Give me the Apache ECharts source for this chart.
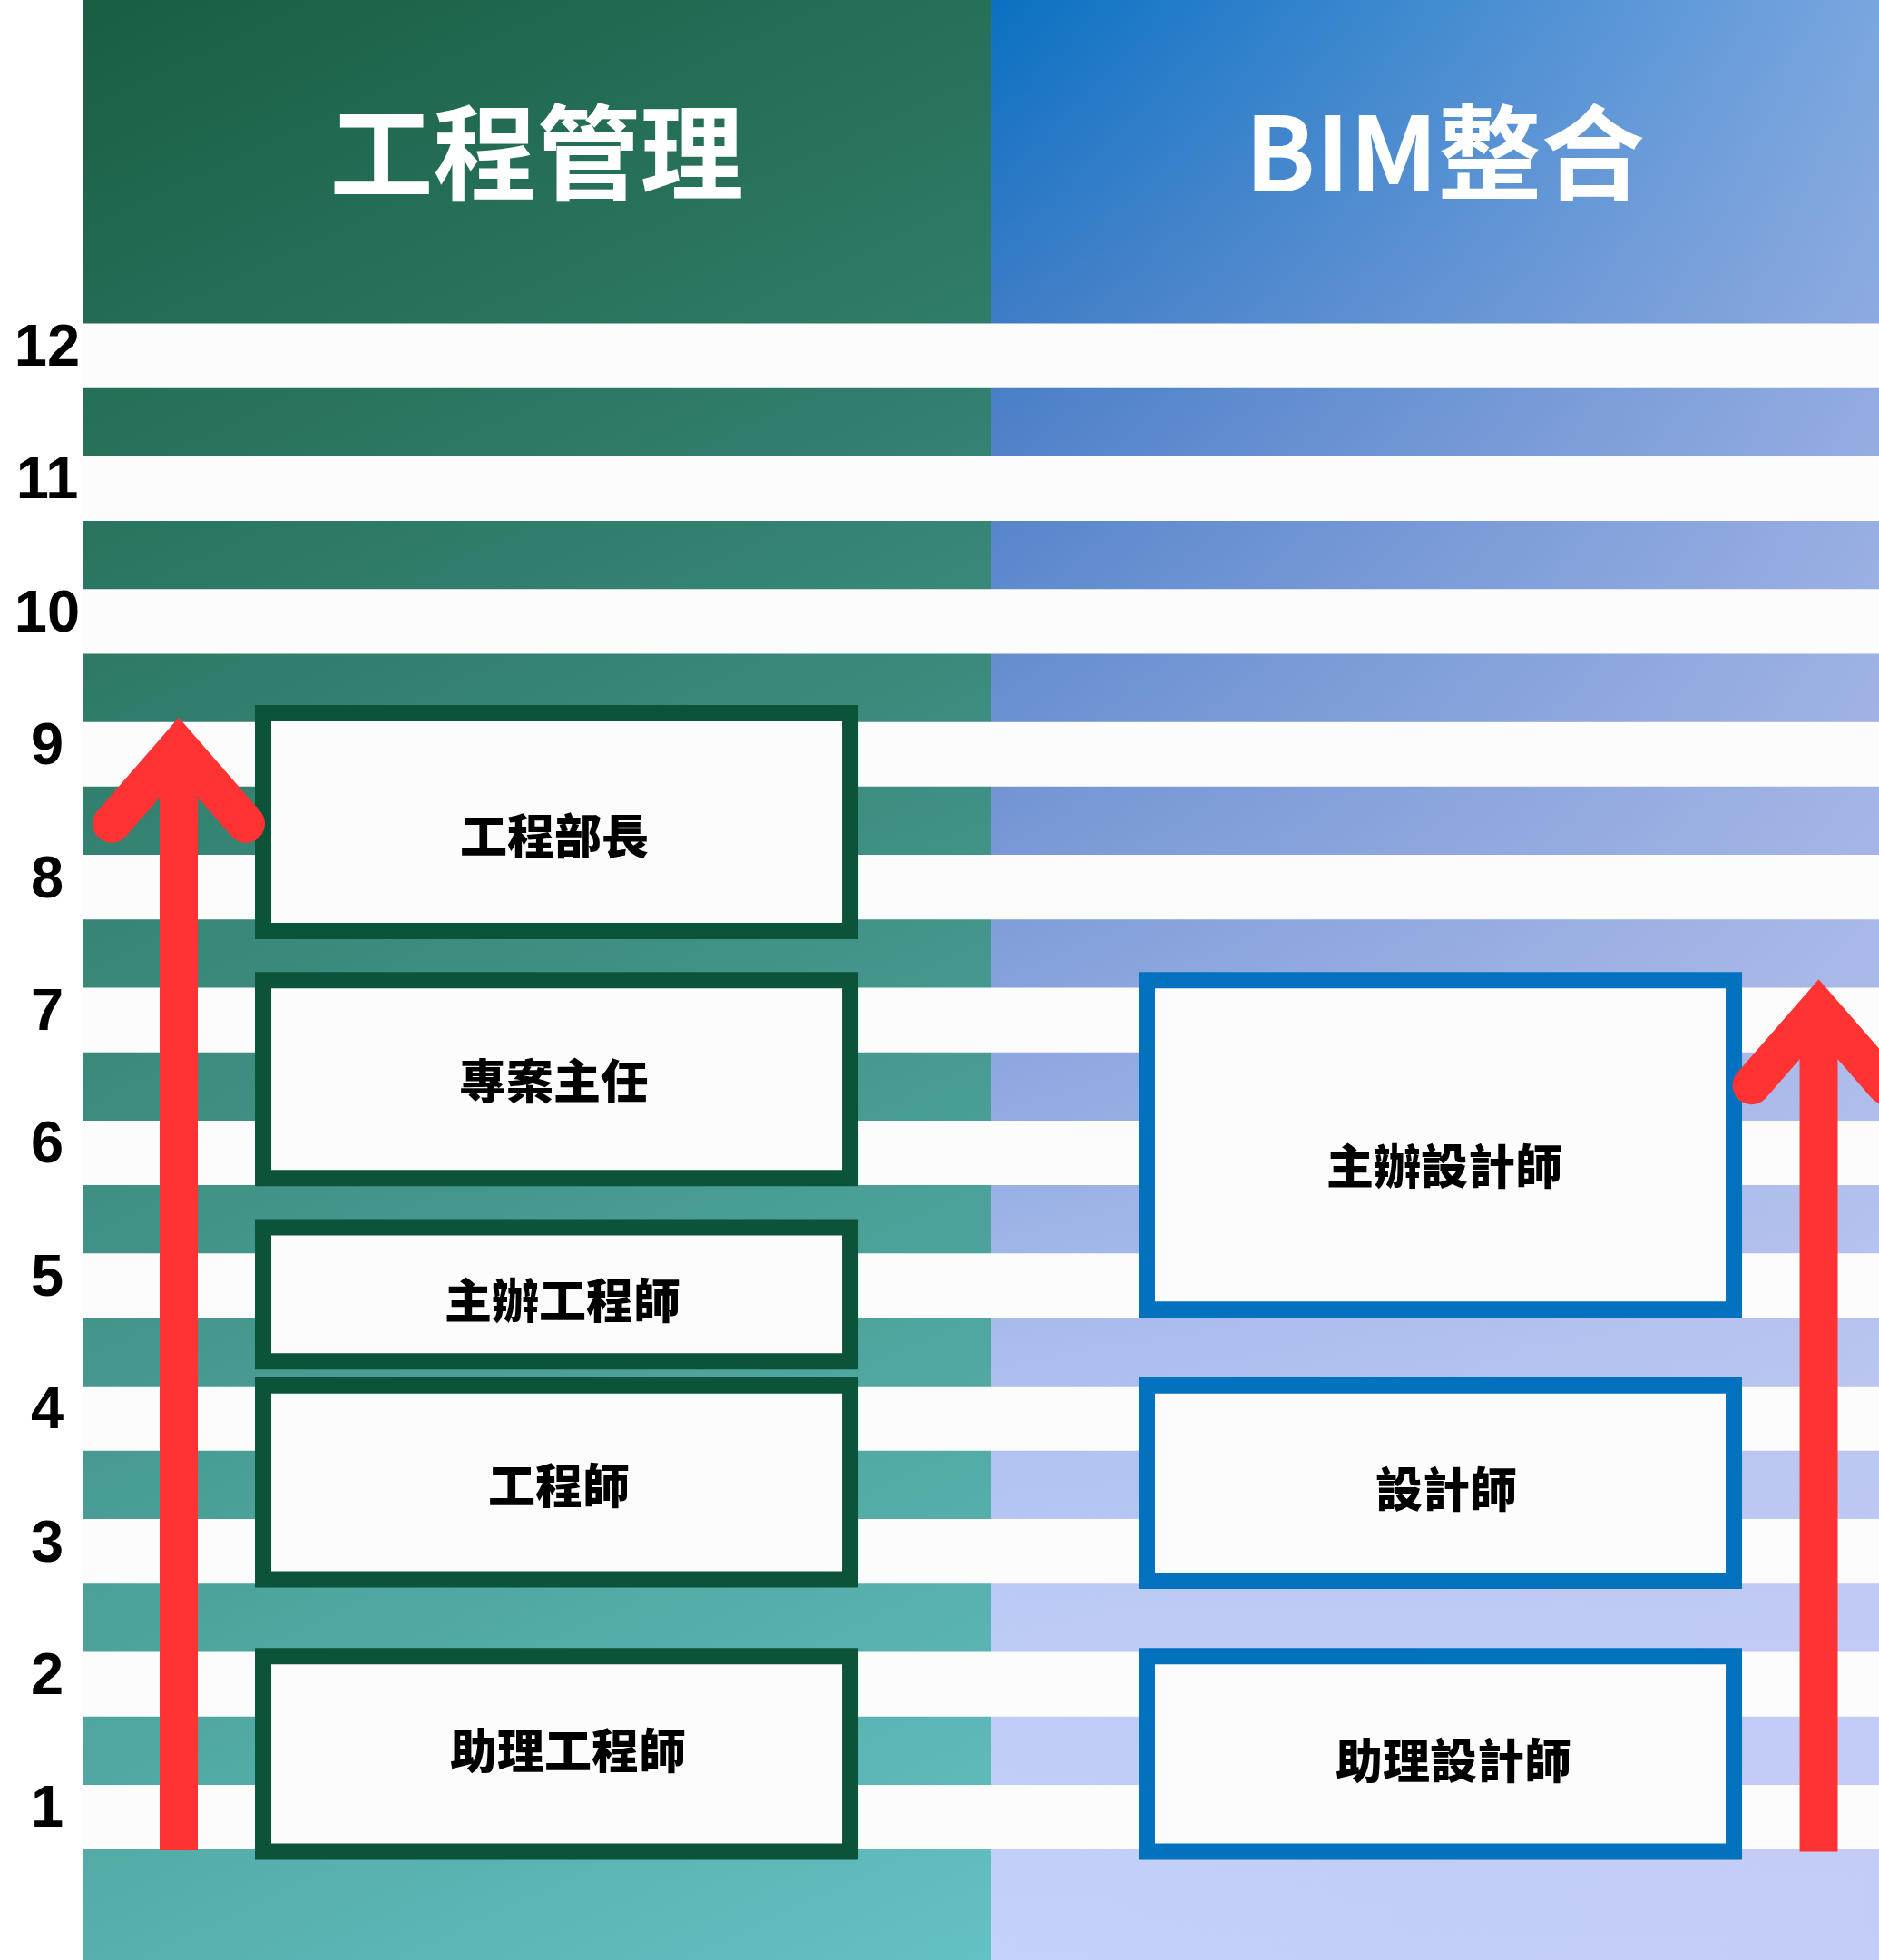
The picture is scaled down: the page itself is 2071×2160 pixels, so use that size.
<!DOCTYPE html>
<html><head><meta charset="utf-8">
<script src="https://cdn.jsdelivr.net/npm/echarts@6/dist/echarts.min.js"></script>
<style>html,body{margin:0;padding:0;background:#ffffff;overflow:hidden}#c{width:2071px;height:2160px}</style>
</head><body><div id="c"></div>
<script>
// ---- data ----
const categories = ['工程管理', 'BIM整合'];
const levels = [1, 2, 3, 4, 5, 6, 7, 8, 9, 10, 11, 12];
const engRoles = ['工程部長', '專案主任', '主辦工程師', '工程師', '助理工程師'];
const engLow  = [7.67, 5.81, 4.43, 2.79, 0.74];
const engHigh = [9.31, 7.30, 5.44, 4.25, 2.21];
const bimRoles = ['主辦設計師', '設計師', '助理設計師'];
const bimLow  = [4.82, 2.78, 0.74];
const bimHigh = [7.30, 4.25, 2.21];
const arrowLow  = [0.75, 0.74];
const arrowHigh = [9.27, 7.30];

// ---- layout / style constants ----
const Y_MIN = -0.076, Y_MAX = 14.678;
const X_MAX = 1.978;
const BAND_HALF = 0.243, HEADER_FROM = 12.243;
const HEADER_DY = -11;
const BOX_X = [[0.1988, 0.8452], [0.1718, 0.8182]];
const ARROW_X = [0.1059, 0.9116];
const STROKE = ['#0b5339', '#0272be'];
const ENG_NUDGE = [[-2.5, 15], [-3.5, 2.5], [6.5, 7], [2.5, 3.5], [12.5, -3.5]];
const BIM_NUDGE = [[4.5, 24], [6.5, 6.5], [14.5, 7.5]];
const FILLS = [
  [{type: 'linear', x: 0, y: 0, x2: 1, y2: 1, colorStops: [
    {offset: 0, color: '#195e43'}, {offset: 1, color: '#64c1c3'}]}],
  [{type: 'linear', x: 0, y: 0, x2: 0, y2: 1, colorStops: [
      {offset: 0, color: '#0a70c2'}, {offset: 0.215, color: '#4d80c8'},
      {offset: 0.417, color: '#7496d4'}, {offset: 0.551, color: '#8fa8e0'},
      {offset: 0.69, color: '#a9bdee'}, {offset: 0.824, color: '#bccbf6'},
      {offset: 1, color: '#c4d1fa'}]},
   {type: 'linear', x: 0, y: 0, x2: 1, y2: 0, colorStops: [
      {offset: 0, color: 'rgba(196,202,242,0)'}, {offset: 1, color: 'rgba(196,202,242,0.61)'}]}]
];

const colData = categories.map((n, i) => [i]);
const bandData = levels.map(k => [k]);
const boxData = [];
const boxNames = [];
const boxNudge = [];
engRoles.forEach((n, i) => { boxData.push([0, engLow[i], engHigh[i]]); boxNames.push(n); boxNudge.push(ENG_NUDGE[i]); });
bimRoles.forEach((n, i) => { boxData.push([1, bimLow[i], bimHigh[i]]); boxNames.push(n); boxNudge.push(BIM_NUDGE[i]); });
const arrowData = arrowLow.map((v, i) => [i, v, arrowHigh[i]]);

const chart = echarts.init(document.getElementById('c'), null, {renderer: 'canvas'});
chart.setOption({
  animation: false,
  backgroundColor: '#ffffff',
  grid: {left: 91, right: 0, top: 0, bottom: 0, containLabel: false},
  xAxis: {type: 'value', min: 0, max: X_MAX, show: false},
  yAxis: {
    type: 'value', min: Y_MIN, max: Y_MAX,
    axisLine: {show: false}, axisTick: {show: false}, splitLine: {show: false},
    axisLabel: {
      customValues: levels,
      formatter: v => String(Math.round(v)),
      align: 'center', verticalAlign: 'bottom', lineHeight: 14, margin: 39,
      fontFamily: 'Liberation Sans', fontWeight: 'bold', fontSize: 65,
      color: '#000000'
    }
  },
  series: [
    {
      type: 'custom', z: 1, silent: true, clip: false, data: colData,
      renderItem(params, api) {
        const c = api.value(0);
        const p1 = api.coord([c, Y_MAX]);
        const p2 = api.coord([c + 1, Y_MIN]);
        const h = api.coord([c + 0.5, (Y_MAX + HEADER_FROM) / 2]);
        const children = FILLS[c].map(f => ({type: 'rect',
          shape: {x: p1[0], y: p1[1], width: p2[0] - p1[0], height: p2[1] - p1[1]},
          style: {fill: f}}));
        children.push({type: 'text', z2: 5, style: {x: h[0], y: h[1] + HEADER_DY, text: categories[c], fill: '#ffffff',
           font: 'bold 114px "Noto Sans CJK TC"', align: 'center', verticalAlign: 'middle'}});
        return {type: 'group', children};
      }
    },
    {
      type: 'custom', z: 2, silent: true, data: bandData,
      renderItem(params, api) {
        const k = api.value(0);
        const p1 = api.coord([0, k + BAND_HALF]);
        const p2 = api.coord([X_MAX, k - BAND_HALF]);
        return {type: 'rect', shape: {x: p1[0], y: p1[1], width: p2[0] - p1[0], height: p2[1] - p1[1]},
          style: {fill: '#fcfcfc'}};
      }
    },
    {
      type: 'custom', z: 3, silent: true, data: boxData,
      renderItem(params, api) {
        const c = api.value(0), lo = api.value(1), hi = api.value(2);
        const bx = BOX_X[c];
        const p1 = api.coord([c + bx[0], hi]);
        const p2 = api.coord([c + bx[1], lo]);
        const nd = boxNudge[params.dataIndex];
        return {type: 'group', children: [
          {type: 'rect', shape: {x: p1[0], y: p1[1], width: p2[0] - p1[0], height: p2[1] - p1[1]},
           style: {fill: '#fcfcfc', stroke: STROKE[c], lineWidth: 18, lineJoin: 'miter'}},
          {type: 'text', z2: 5, style: {x: (p1[0] + p2[0]) / 2 + nd[0], y: (p1[1] + p2[1]) / 2 + nd[1],
           text: boxNames[params.dataIndex], fill: '#000000',
           font: '900 52px "Noto Sans CJK TC"', align: 'center', verticalAlign: 'middle'}}
        ]};
      }
    },
    {
      type: 'custom', z: 4, silent: true, clip: false, data: arrowData,
      renderItem(params, api) {
        const c = api.value(0), lo = api.value(1), hi = api.value(2);
        const t = api.coord([c + ARROW_X[c], hi]);
        const b = api.coord([c + ARROW_X[c], lo]);
        const apexY = t[1] + 31;
        return {type: 'group', children: [
          {type: 'line', shape: {x1: t[0], y1: b[1], x2: t[0], y2: apexY + 6},
           style: {stroke: '#ff3333', lineWidth: 42, lineCap: 'butt'}},
          {type: 'polyline', shape: {points: [[t[0] - 74, apexY + 85], [t[0], apexY], [t[0] + 74, apexY + 85]]},
           style: {stroke: '#ff3333', fill: null, lineWidth: 42, lineCap: 'round', lineJoin: 'miter', miterLimit: 10}}
        ]};
      }
    }
  ]
});
</script>
</body></html>
